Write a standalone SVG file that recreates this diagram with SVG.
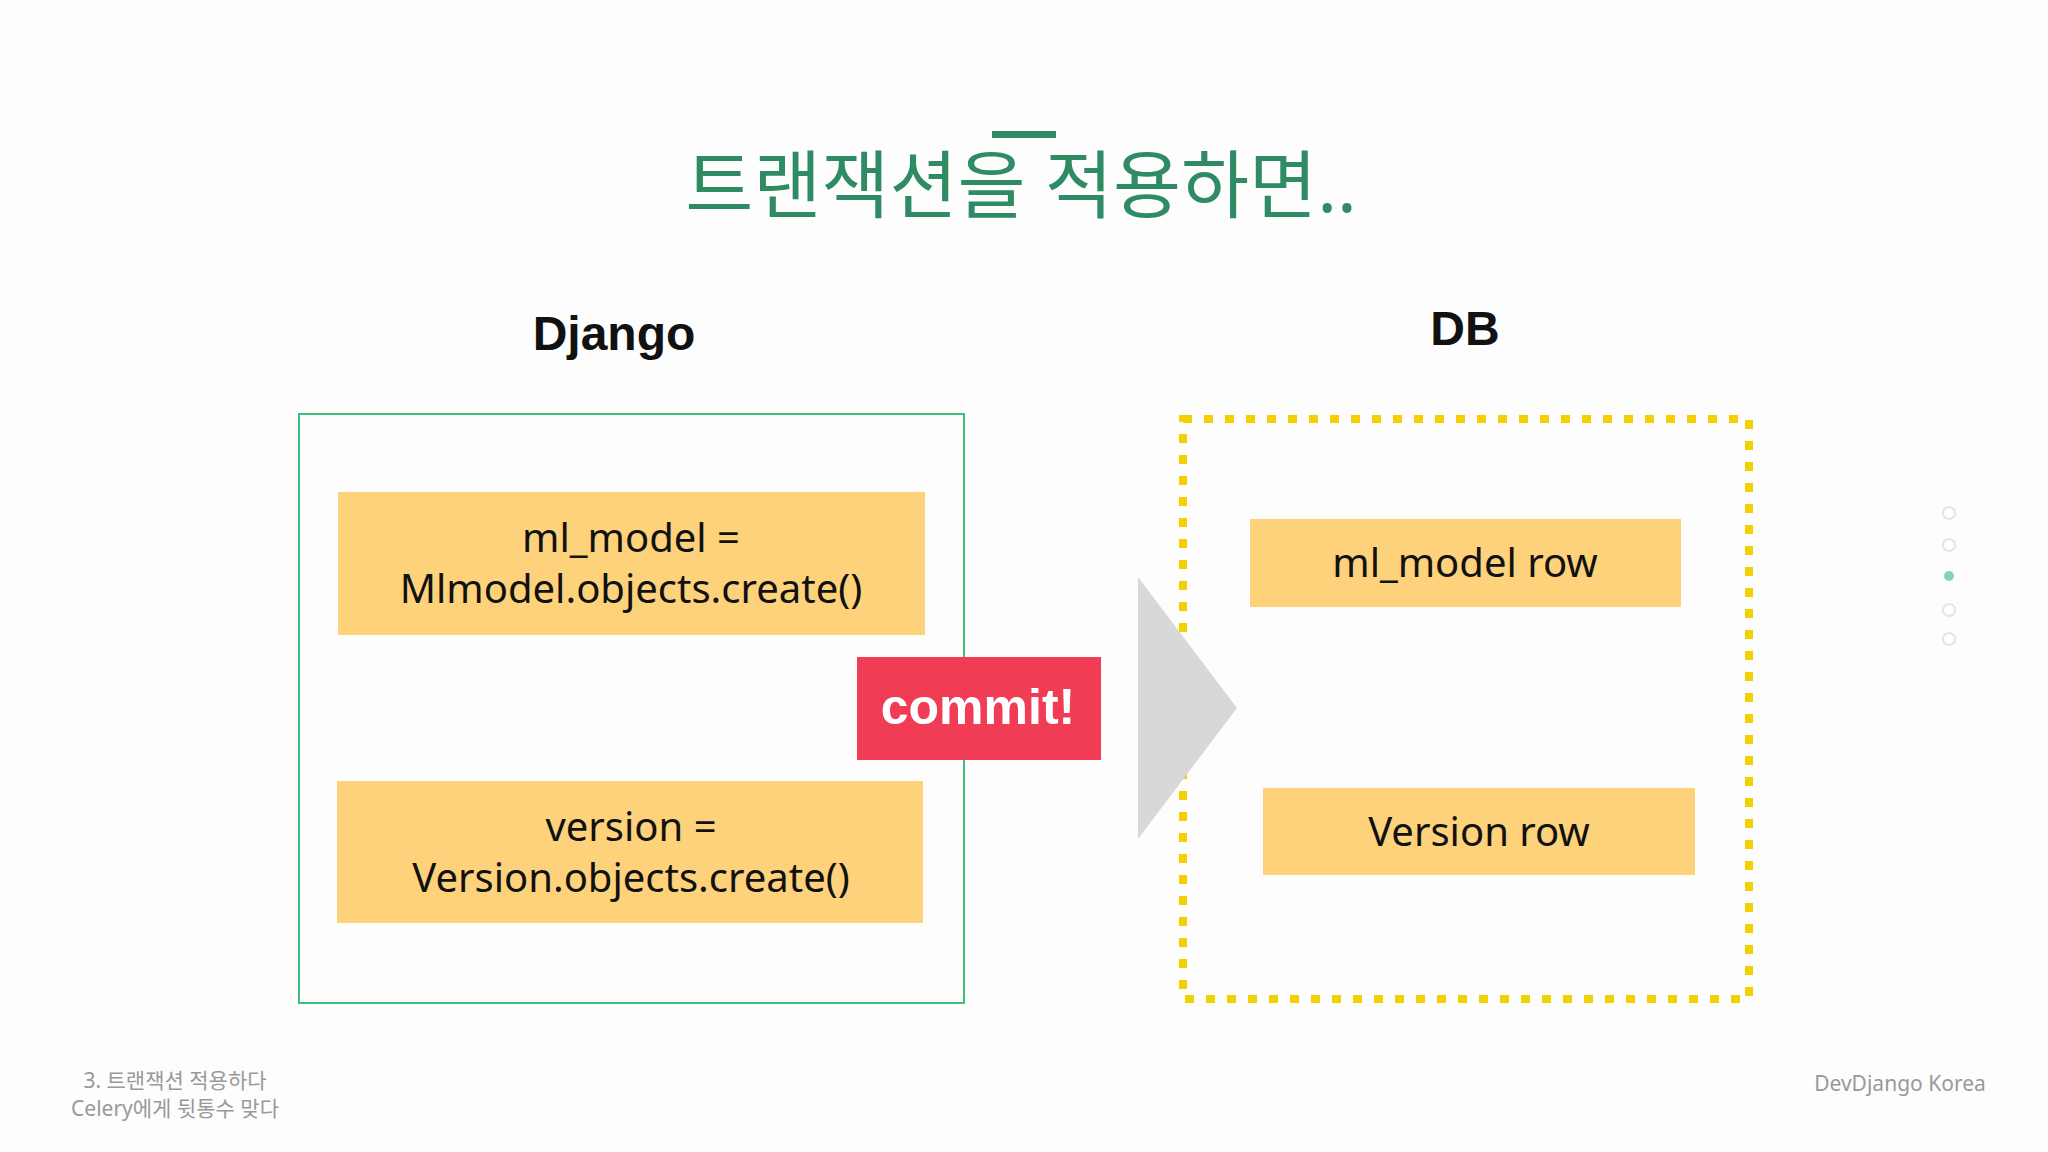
<svg xmlns="http://www.w3.org/2000/svg" width="2048" height="1152" viewBox="0 0 2048 1152">
<style>
.t{font-family:"Noto Sans","Noto Sans CJK KR",sans-serif}
.box{fill:#fdd27a}
.bt{font-family:"Noto Sans",sans-serif;font-size:40px;fill:#111;text-anchor:middle}
.hd{font-family:"Liberation Sans",sans-serif;font-weight:bold;font-size:48px;fill:#111;text-anchor:middle}
.sm{font-family:"Noto Sans","Noto Sans CJK KR",sans-serif;font-size:21px;fill:#999;text-anchor:middle}
.dot{fill:#fff;stroke:#e4e4e4;stroke-width:2}
</style>
<rect width="2048" height="1152" fill="#fdfdfd"/>
<g id="title">
<rect x="992" y="131" width="64" height="7" fill="#2e8b64"/>
<text x="1021" y="212" class="t" font-size="74" fill="#2e8b64" text-anchor="middle">트랜잭션을 적용하면..</text>
</g>
<g id="django-label"><text x="614" y="350" class="hd">Django</text></g>
<g id="db-label"><text x="1465" y="345" class="hd">DB</text></g>
<g id="django">
<rect x="299" y="414" width="665" height="589" fill="none" stroke="#3cc080" stroke-width="2"/>
</g>
<g id="db">
<rect x="1183" y="419" width="566" height="580" fill="none" stroke="#f5d000" stroke-width="8" stroke-dasharray="9 12"/>
</g>
<g id="ml_model">
<rect x="338" y="492" width="587" height="143" class="box"/>
<text x="631" y="552" class="bt">ml_model =</text>
<text x="631" y="603" class="bt" font-size="42">Mlmodel.objects.create()</text>
</g>
<g id="version">
<rect x="337" y="781" width="586" height="142" class="box"/>
<text x="631" y="841" class="bt">version =</text>
<text x="631" y="892" class="bt" font-size="42">Version.objects.create()</text>
</g>
<g id="ml_model_row">
<rect x="1250" y="519" width="431" height="88" class="box"/>
<text x="1465" y="577" class="bt">ml_model row</text>
</g>
<g id="version_row">
<rect x="1263" y="788" width="432" height="87" class="box"/>
<text x="1479" y="846" class="bt">Version row</text>
</g>
<g id="connectors">
<polygon points="1138,577 1237,708 1138,839" fill="#d8d8d8"/>
</g>
<g id="commit">
<rect x="857" y="657" width="244" height="103" fill="#f03c55"/>
<text x="978" y="724" font-family="Liberation Sans,sans-serif" font-weight="bold" font-size="50" fill="#fff" text-anchor="middle">commit!</text>
</g>
<g id="nav">
<circle cx="1949" cy="513" r="6" class="dot"/>
<circle cx="1949" cy="545" r="6" class="dot"/>
<circle cx="1949" cy="576" r="5" fill="#7fd8b0"/>
<circle cx="1949" cy="610" r="6" class="dot"/>
<circle cx="1949" cy="639" r="6" class="dot"/>
</g>
<g id="footer">
<text x="175" y="1088" class="sm">3. 트랜잭션 적용하다</text>
<text x="175" y="1116" class="sm">Celery에게 뒷통수 맞다</text>
<text x="1900" y="1091" class="sm">DevDjango Korea</text>
</g>
</svg>
